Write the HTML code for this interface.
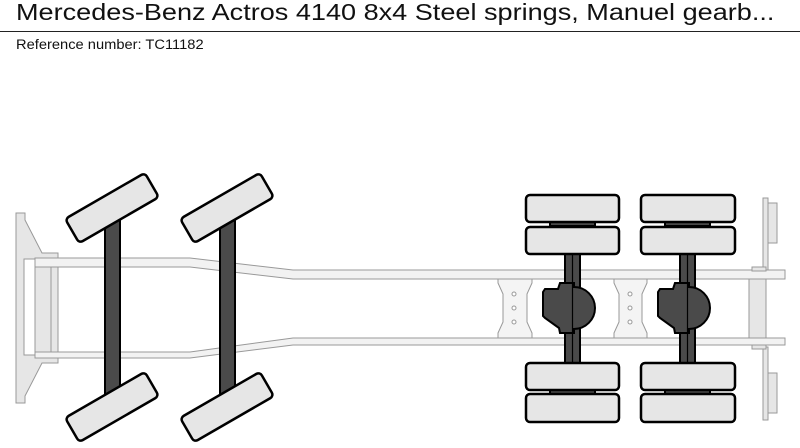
<!DOCTYPE html>
<html><head><meta charset="utf-8"><style>
html,body{margin:0;padding:0;background:#fff;width:800px;height:448px;overflow:hidden}
.t{position:absolute;left:16px;top:-1px;font:23px "Liberation Sans",sans-serif;color:#111;white-space:nowrap;transform:scaleX(1.177);transform-origin:0 0}
.r{position:absolute;left:16px;top:37px;font:13.5px "Liberation Sans",sans-serif;color:#111;white-space:nowrap;transform:scaleX(1.087);transform-origin:0 0}
.l{position:absolute;left:0;top:31px;width:800px;height:1px;background:#222}
svg{position:absolute;left:0;top:0}
</style></head><body>
<div class="t">Mercedes-Benz Actros 4140 8x4 Steel springs, Manuel gearb...</div>
<div class="l"></div>
<div class="r">Reference number: TC11182</div>
<svg width="800" height="448" viewBox="0 0 800 448">
<g stroke="#999" stroke-width="1" fill="#e6e6e6">
<polygon points="16,213 25,213 25,220 42,253 58,253 58,363 42,363 25,396 25,403 16,403"/>
<rect x="24" y="259" width="11" height="96" fill="#fff"/>
<rect x="35" y="259" width="16" height="96"/>
<polygon points="35,258 190,258 293,270 785,270 785,279 293,279 190,267 35,267" fill="#f2f2f2"/>
<polygon points="35,352 190,352 293,338 785,338 785,345 293,345 190,358 35,358" fill="#f2f2f2"/>
<polygon points="498,279 532,279 532,283 527,294 527,322 532,333 532,338 498,338 498,333 503,322 503,294 498,283" fill="#f4f4f4"/>
<polygon points="614,279 647,279 647,283 642,294 642,322 647,333 647,338 614,338 614,333 619,322 619,294 614,283" fill="#f4f4f4"/>
<g fill="#fff"><circle cx="514" cy="294" r="2"/><circle cx="514" cy="308" r="2"/><circle cx="514" cy="322" r="2"/>
<circle cx="630" cy="294" r="2"/><circle cx="630" cy="308" r="2"/><circle cx="630" cy="322" r="2"/></g>
<rect x="749" y="279" width="17" height="59"/>
<rect x="763" y="198" width="5" height="72"/>
<rect x="763" y="347" width="5" height="73"/>
<rect x="768" y="203" width="9" height="40"/>
<rect x="768" y="373" width="9" height="40"/>
<rect x="752" y="267" width="14" height="4"/>
<rect x="752" y="345" width="14" height="4"/>
</g>
<g stroke="#000" stroke-width="2" fill="#4a4a4a">
<rect x="105" y="218" width="15" height="178"/>
<rect x="220" y="218" width="15" height="178"/>
</g>
<g stroke="#000" stroke-width="2.5" fill="#e6e6e6">
<rect x="-46" y="-14" width="92" height="28" rx="4" transform="translate(112,208) rotate(-30)"/>
<rect x="-46" y="-14" width="92" height="28" rx="4" transform="translate(112,407) rotate(-30)"/>
<rect x="-46" y="-14" width="92" height="28" rx="4" transform="translate(227,208) rotate(-30)"/>
<rect x="-46" y="-14" width="92" height="28" rx="4" transform="translate(227,407) rotate(-30)"/>
</g>
<g stroke="#000" stroke-width="2" fill="#4a4a4a">
<rect x="565" y="252" width="15" height="113"/>
<rect x="680" y="252" width="15" height="113"/>
<path d="M560,283 L574,283 L574,287 A21,21 0 0 1 574,329 L574,333 L560,333 L559,328 L545,318 L543,316 L543,292 L545,289 L558,289 Z"/>
<path d="M675,283 L689,283 L689,287 A21,21 0 0 1 689,329 L689,333 L675,333 L674,328 L660,318 L658,316 L658,292 L660,289 L673,289 Z"/>
<line x1="572.5" y1="252" x2="572.5" y2="365" stroke-width="1.2"/>
<line x1="687.5" y1="252" x2="687.5" y2="365" stroke-width="1.2"/>
<rect x="550" y="221" width="45" height="5"/><rect x="665" y="221" width="45" height="5"/>
<rect x="550" y="389" width="45" height="5"/><rect x="665" y="389" width="45" height="5"/>
</g>
<g stroke="#000" stroke-width="2.5" fill="#e6e6e6">
<rect x="526" y="195" width="93" height="27" rx="4"/>
<rect x="526" y="227" width="93" height="27" rx="4"/>
<rect x="526" y="363" width="93" height="27" rx="4"/>
<rect x="526" y="394" width="93" height="28" rx="4"/>
<rect x="641" y="195" width="94" height="27" rx="4"/>
<rect x="641" y="227" width="94" height="27" rx="4"/>
<rect x="641" y="363" width="94" height="27" rx="4"/>
<rect x="641" y="394" width="94" height="28" rx="4"/>
</g>
</svg>
</body></html>
